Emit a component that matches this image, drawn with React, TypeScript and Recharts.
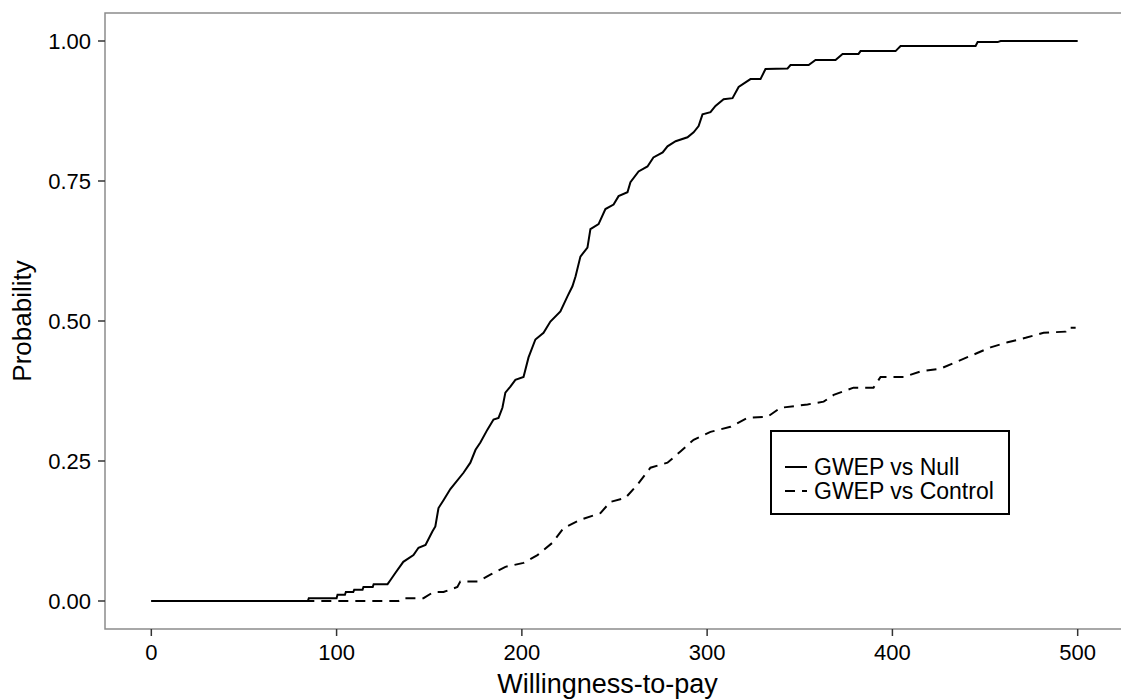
import { LineChart, Line, XAxis, YAxis, ReferenceArea, Legend, Label } from "recharts";

const nullWtp = [
  0, 84.5, 85, 100, 100.5, 104.5, 105, 109, 109.5, 114, 114.5, 119.5, 120, 127.5, 129, 131.7, 136, 141.5,
  144.2, 148, 151.7, 153.3, 155, 157.7, 161.4, 168.5, 172.2, 175, 177.6, 181.4, 184.7, 187.4, 189.5, 191.1,
  193.8, 196.5, 200.9, 203.6, 207.3, 211.7, 215.4, 220.8, 224.6, 227.3, 229, 231.6, 235.4, 237, 241.4, 245.1,
  249.5, 252.2, 257, 258.6, 263, 267.8, 271, 276, 278.6, 283, 289.4, 292.7, 295.4, 297.5, 301.8, 304.5, 308.9,
  313.7, 317, 323.4, 328.8, 331.5, 343.4, 345, 354.8, 358.5, 369.3, 373.1, 381.7, 382.8, 401.7, 404.4, 444.9,
  446, 456.8, 458.4, 500,
];
const nullProb = [
  0, 0, 0.005, 0.005, 0.011, 0.011, 0.016, 0.016, 0.02, 0.02, 0.025, 0.025, 0.03, 0.03, 0.037, 0.05, 0.07, 0.082,
  0.095, 0.1, 0.124, 0.133, 0.166, 0.18, 0.2, 0.229, 0.247, 0.27, 0.283, 0.306, 0.324, 0.327, 0.345, 0.372,
  0.383, 0.395, 0.4, 0.435, 0.467, 0.479, 0.499, 0.517, 0.544, 0.562, 0.58, 0.615, 0.631, 0.664, 0.673, 0.7,
  0.708, 0.723, 0.73, 0.748, 0.767, 0.776, 0.792, 0.801, 0.812, 0.821, 0.828, 0.837, 0.848, 0.869, 0.873, 0.884,
  0.896, 0.898, 0.918, 0.932, 0.932, 0.95, 0.951, 0.957, 0.957, 0.966, 0.966, 0.977, 0.977, 0.982, 0.982, 0.991,
  0.991, 0.998, 0.998, 1, 1,
];

const controlWtp = [
  0, 133.4, 135.5, 146.9, 152.3, 157.7, 165.2, 166.8, 176.6, 183, 191.1, 200.9, 208.4, 216.5, 222.5, 231.6,
  242.4, 247.8, 255.9, 262.4, 269.4, 278.6, 285.6, 292.7, 301.8, 312.6, 321.8, 332.6, 339.6, 354.2, 362.9,
  368.3, 379, 389.8, 393.6, 406, 415.2, 426, 435.2, 443.8, 453, 462.2, 471.9, 481.6, 493.5, 494.6, 498.9,
];
const controlProb = [
  0, 0, 0.005, 0.005, 0.016, 0.016, 0.025, 0.035, 0.035, 0.047, 0.061, 0.068, 0.082, 0.104, 0.13, 0.145,
  0.157, 0.177, 0.184, 0.208, 0.238, 0.247, 0.267, 0.288, 0.302, 0.311, 0.327, 0.329, 0.345, 0.351, 0.356,
  0.368, 0.381, 0.381, 0.4, 0.4, 0.41, 0.415, 0.428, 0.44, 0.453, 0.462, 0.47, 0.479, 0.481, 0.488, 0.488,
];

const xTicks = [0, 100, 200, 300, 400, 500];
const yTicks = [0, 0.25, 0.5, 0.75, 1];

const nullData = nullWtp.map((wtp, i) => ({ wtp, p: nullProb[i] }));
const controlData = controlWtp.map((wtp, i) => ({ wtp, p: controlProb[i] }));

const FONT = "'Liberation Sans', Arial, sans-serif";
const DASH = "10 7";

function LegendBox() {
  const rows = [
    { name: "GWEP vs Null", dash: undefined as string | undefined },
    { name: "GWEP vs Control", dash: DASH },
  ];
  return (
    <div
      style={{
        width: 240,
        height: 85,
        boxSizing: "border-box",
        border: "2px solid #000",
        background: "#fff",
        paddingTop: 23,
        paddingLeft: 12,
        fontFamily: FONT,
        fontSize: 23,
        color: "#000",
      }}
    >
      {rows.map((r) => (
        <div key={r.name} style={{ display: "flex", alignItems: "center", height: 24 }}>
          <svg width={30} height={24}>
            <line x1={1} y1={12} x2={23} y2={12} stroke="#000" strokeWidth={2} strokeDasharray={r.dash} />
          </svg>
          <span style={{ lineHeight: "24px" }}>{r.name}</span>
        </div>
      ))}
    </div>
  );
}

export default function App() {
  return (
    <div
      style={{
        position: "absolute",
        left: 0,
        top: 0,
        width: 1121,
        height: 700,
        overflow: "hidden",
        background: "#fff",
        fontFamily: FONT,
      }}
    >
      <LineChart width={1124} height={700} margin={{ top: 13, right: 0, bottom: 0, left: 0 }}>
        <ReferenceArea
          x1={-25}
          x2={525}
          y1={-0.05}
          y2={1.05}
          fill="none"
          stroke="#8c8c8c"
          strokeWidth={1.5}
          ifOverflow="visible"
        />
        <XAxis
          type="number"
          dataKey="wtp"
          domain={[-25, 525]}
          ticks={xTicks}
          allowDataOverflow
          axisLine={false}
          tickLine={{ stroke: "#333", strokeWidth: 1.5 }}
          tickSize={7}
          tickMargin={8}
          tick={{ fontSize: 22, fill: "#000", fontFamily: FONT }}
          height={71}
        >
          <Label
            content={(props: any) => {
              const vb = props.viewBox || {};
              return (
                <text
                  x={vb.x + vb.width / 2 - 7}
                  y={vb.y + vb.height - 7}
                  textAnchor="middle"
                  style={{ fontSize: 27, fill: "#000", fontFamily: FONT }}
                >
                  Willingness-to-pay
                </text>
              );
            }}
          />
        </XAxis>
        <YAxis
          type="number"
          domain={[-0.05, 1.05]}
          ticks={yTicks}
          allowDataOverflow
          axisLine={false}
          tickLine={{ stroke: "#333", strokeWidth: 1.5 }}
          tickSize={7}
          tickMargin={7}
          tickFormatter={(v: number) => v.toFixed(2)}
          tick={{ fontSize: 22, fill: "#000", fontFamily: FONT }}
          width={105}
        >
          <Label
            content={(props: any) => {
              const vb = props.viewBox || {};
              const cx = vb.x + 31;
              const cy = vb.y + vb.height / 2;
              return (
                <text
                  x={cx}
                  y={cy}
                  textAnchor="middle"
                  transform={`rotate(-90 ${cx} ${cy})`}
                  style={{ fontSize: 26, fill: "#000", fontFamily: FONT }}
                >
                  Probability
                </text>
              );
            }}
          />
        </YAxis>
        <Legend
          layout="vertical"
          align="center"
          verticalAlign="middle"
          content={() => <LegendBox />}
          wrapperStyle={{ left: 770, top: 430, width: 240, height: 85 }}
        />
        <Line
          data={controlData}
          dataKey="p"
          name="GWEP vs Control"
          type="linear"
          stroke="#000"
          strokeWidth={2}
          strokeDasharray={DASH}
          dot={false}
          isAnimationActive={false}
        />
        <Line
          data={nullData}
          dataKey="p"
          name="GWEP vs Null"
          type="linear"
          stroke="#000"
          strokeWidth={2}
          dot={false}
          isAnimationActive={false}
        />
      </LineChart>
    </div>
  );
}
